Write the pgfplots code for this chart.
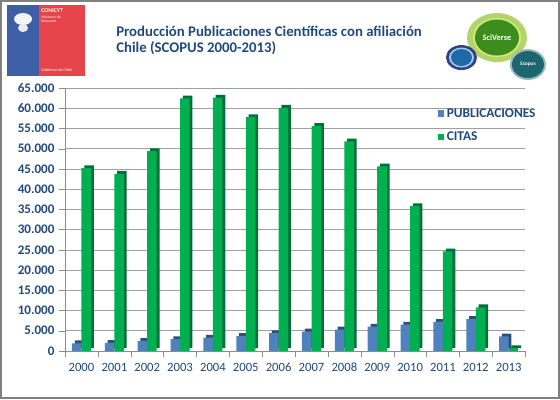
\documentclass[border=0pt]{standalone}
\usepackage{pgfplots}
\usepackage{pgfplotstable}
\pgfplotsset{compat=1.18}
\usepackage{fontspec}
\setmainfont{Carlito}
\definecolor{pubblue}{HTML}{4F81BD}
\definecolor{pubside}{HTML}{2C4F7C}
\definecolor{citgreen}{HTML}{00B050}
\definecolor{citside}{HTML}{00703A}
\definecolor{txtblue}{HTML}{1F497D}
\definecolor{gridgray}{HTML}{A0A0A0}
\definecolor{conblue}{HTML}{3D5FA6}
\definecolor{conred}{HTML}{E5444A}
\definecolor{svlight}{HTML}{B3D46A}
\definecolor{svdark}{HTML}{3C8C1E}
\definecolor{svyel}{HTML}{D8E87A}
\definecolor{bcdark}{HTML}{3A3E8A}
\definecolor{bclight}{HTML}{9CD0F0}
\definecolor{bcin}{HTML}{1E6AA8}
\definecolor{scteal}{HTML}{1D6670}
\definecolor{scring}{HTML}{9BB8BC}

\pgfplotstableread{
x pub cit
0 1900 45200
1 2000 43800
2 2500 49400
3 2900 62400
4 3300 62600
5 3700 57800
6 4400 60100
7 4800 55600
8 5300 51800
9 6000 45600
10 6500 35800
11 7200 24600
12 7900 10800
13 3600 700
}\datatable

\begin{document}
\begin{tikzpicture}[x=0.025cm,y=0.025cm]
\path (0,0) rectangle (560,399);
\draw[black!50, line width=1.2pt] (0.8,0.8) rectangle (559.2,398.2);
% CONICYT logo
\fill[conblue] (7,323) rectangle (39,394);
\fill[conred] (39,323) rectangle (85,394);
\fill[white!92!gray] (23,380) ellipse (9 and 6);
\fill[white!85!gray] (23,371) ellipse (5 and 4);
\node[anchor=west, white, font=\bfseries\fontsize{4.2}{4.2}\selectfont, inner sep=0] at (41,388) {CONICYT};
\node[anchor=west, white, font=\fontsize{2.6}{2.6}\selectfont, inner sep=0] at (41,382) {Ministerio de};
\node[anchor=west, white, font=\fontsize{2.6}{2.6}\selectfont, inner sep=0] at (41,378) {Educación};
\node[anchor=west, white, font=\fontsize{3}{3}\selectfont, inner sep=0] at (41,329) {Gobierno de Chile};
% Title
\node[anchor=west, text=txtblue, font=\bfseries\fontsize{10.5}{12}\selectfont, inner sep=0] at (116,368) {Producción Publicaciones Científicas con afiliación};
\node[anchor=west, text=txtblue, font=\bfseries\fontsize{10.5}{12}\selectfont, inner sep=0] at (116,351) {Chile (SCOPUS 2000-2013)};
% SciVerse logo
\fill[svlight] (497,361.5) ellipse (30 and 24.5);
\fill[svyel] (497,361.5) ellipse (24 and 19.5);
\fill[svdark] (497,361.5) ellipse (22 and 18);
\node[white, font=\bfseries\fontsize{6}{6}\selectfont] at (497,361.5) {SciVerse};
\fill[bcdark] (461.5,341.5) ellipse (15.5 and 12.5);
\fill[bclight] (461.5,341.5) ellipse (12.5 and 10);
\fill[bcin] (461.5,341.5) ellipse (10.5 and 8.5);
\fill[scring] (528,334.5) ellipse (18 and 15.5);
\fill[scteal] (528,334.5) ellipse (16 and 13.5);
\node[white, font=\bfseries\fontsize{3.8}{3.8}\selectfont] at (528,334.5) {Scopus};
\begin{axis}[
  at={(1.625cm,1.2cm)}, anchor=south west,
  scale only axis, width=11.5cm, height=6.575cm,
  xmin=-0.5, xmax=13.5, ymin=0, ymax=65000,
  ytick={0,5000,...,65000},
  xtick={0,...,13},
  xticklabels={2000,2001,2002,2003,2004,2005,2006,2007,2008,2009,2010,2011,2012,2013},
  minor xtick={-0.5,0.5,...,13.5},
  major x tick style={draw=none},
  minor x tick style={draw=black!45},
  y tick style={draw=black!45},
  tick align=outside,
  major tick length=4pt, minor tick length=4pt,
  axis x line*=bottom, axis y line*=left,
  axis line style={draw=black!45},
  ymajorgrids, grid style={gridgray},
  ybar=0pt, bar width=0.29,
  yticklabel style={font=\bfseries\fontsize{9.3}{11}\selectfont, text=txtblue},
  xticklabel style={font=\fontsize{9}{11}\selectfont, text=txtblue, yshift=-1pt},
  scaled y ticks=false,
  /pgf/number format/.cd, fixed, 1000 sep={.}, assume math mode=true,
  /pgfplots/.cd,
  legend style={at={(0.80,0.945)}, anchor=north west, draw=none, fill=none,
    font=\bfseries\fontsize{9.5}{11}\selectfont, text=txtblue, row sep=5pt,
    legend cell align=left},
  legend image code/.code={\fill[#1] (0cm,-0.075cm) rectangle (0.16cm,0.085cm);},
]
\addplot[fill=pubside, draw=none, bar shift=-0.145, xshift=2pt, yshift=2pt, forget plot] table[x=x,y=pub] {\datatable};
\addplot[fill=citside, draw=none, bar shift=0.145, xshift=2pt, yshift=2pt, forget plot] table[x=x,y=cit] {\datatable};
\addplot[fill=pubblue, draw=none, bar shift=-0.145] table[x=x,y=pub] {\datatable};
\addplot[fill=citgreen, draw=none, bar shift=0.145] table[x=x,y=cit] {\datatable};
\legend{PUBLICACIONES, CITAS}
\end{axis}
\end{tikzpicture}
\end{document}
